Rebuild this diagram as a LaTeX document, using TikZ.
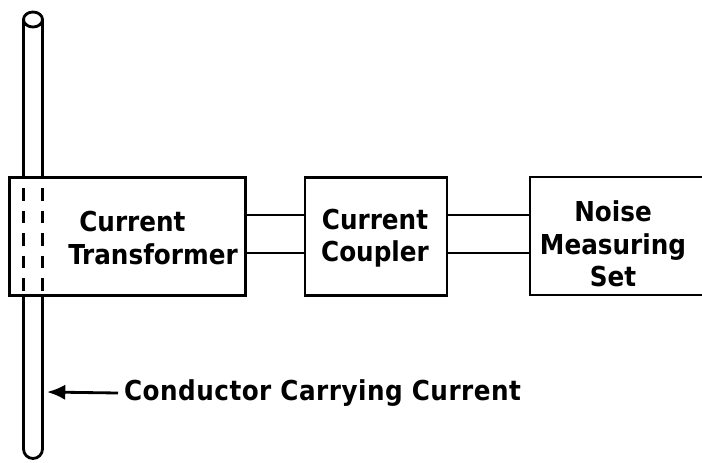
\documentclass[tikz,border=0pt]{standalone}
\usepackage{fontspec}
\setmainfont{DejaVu Sans Condensed}
\usetikzlibrary{arrows.meta}

\begin{document}
\begin{tikzpicture}[x=0.025cm,y=-0.025cm,line width=2pt,
  blk/.style={draw,rectangle,minimum height=2.95cm,inner sep=0pt},
  lbl/.style={align=center,font=\fontsize{19.5}{23}\bfseries},
  rod/.style={line width=2pt}]
\clip (0,0) rectangle (702,462);
% boxes
\node[blk,minimum width=5.9cm] (ct) at (127.5,236.5) {};
\node[blk,minimum width=3.55cm] (cc) at (376,236.5) {};
\node[blk,minimum width=4.6cm] (nm) at (622,236) {};
\node[lbl] (ctt) at (153,238) {Current\rule{1.5em}{0pt}\\Transformer};
\node[lbl] (cct) at (375,238) {Current\\Coupler};
\node[lbl] (nmt) at (613,244) {Noise\\Measuring\\Set};
\node[lbl,anchor=west] (cond) at (118,393)
  {\addfontfeature{LetterSpace=1.8}Conductor Carrying Current};
\coordinate (up) at (0,215);
\coordinate (dn) at (0,253);
\coordinate (tip) at (47,392);
\coordinate (rl) at (23.5,19);
\coordinate (rr) at (42.5,19);
% conductor
\draw[rod] (33,19.5) ellipse (9.5 and 7.5);
\draw[rod] (rl) -- (rl |- ct.north);
\draw[rod] (rr) -- (rr |- ct.north);
\draw[rod,dash pattern=on 9pt off 7pt] ([yshift=-0.3cm]rl |- ct.north) -- (rl |- ct.south);
\draw[rod,dash pattern=on 9pt off 7pt] ([yshift=-0.3cm]rr |- ct.north) -- (rr |- ct.south);
\draw[rod] (rl |- ct.south) -- (23.5,449) arc (180:0:9.5) -- (rr |- ct.south);
% links
\draw (ct.east |- up) -- (cc.west |- up);
\draw (ct.east |- dn) -- (cc.west |- dn);
\draw (cc.east |- up) -- (nm.west |- up);
\draw (cc.east |- dn) -- (nm.west |- dn);
\draw[-{Latex[length=13pt,width=11pt]}] (cond.west) -- (tip);
\end{tikzpicture}
\end{document}
